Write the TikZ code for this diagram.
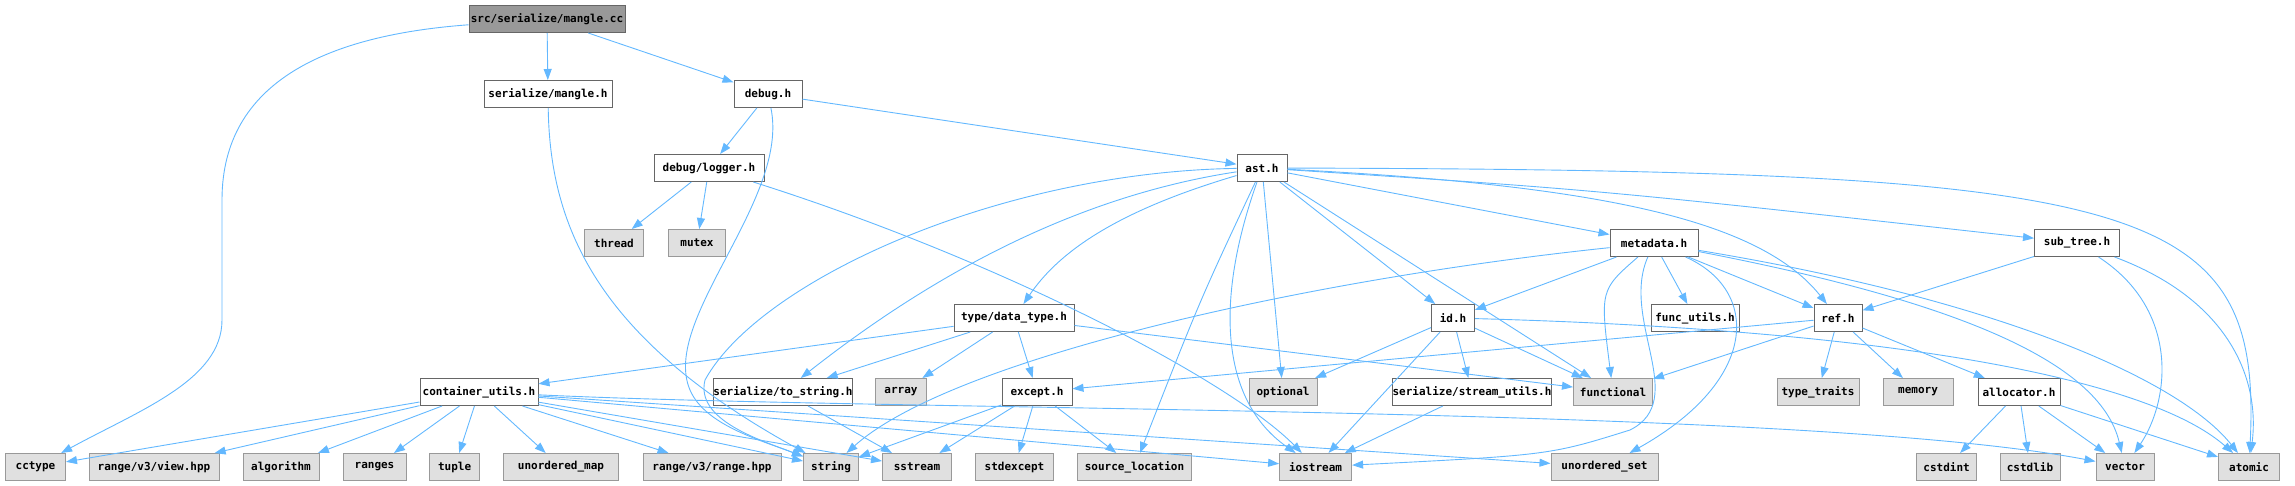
\documentclass[tikz,border=0pt]{standalone}
\usepackage{fontspec}
\setmonofont{DejaVu Sans Mono}
\usetikzlibrary{arrows.meta}

\definecolor{edgeblue}{HTML}{63B8FF}
\definecolor{sysfill}{HTML}{E0E0E0}
\definecolor{rootfill}{HTML}{999999}
\definecolor{hdrline}{HTML}{666666}
\definecolor{sysline}{HTML}{999999}

\begin{document}
\begin{tikzpicture}[x=1pt,y=-1pt,font=\ttfamily\bfseries\fontsize{11}{13}\selectfont]
  \tikzset{box/.style={draw=hdrline,line width=1pt,minimum height=27pt,inner sep=0pt,minimum width=#1pt}}
  \tikzset{hdr/.style={box=#1,fill=white}}
  \tikzset{sys/.style={box=#1,draw=sysline,fill=sysfill}}
  \tikzset{rootbox/.style={box=#1,fill=rootfill}}
  \tikzset{dep/.style={draw=edgeblue,line width=0.9pt,-{Triangle[length=11pt,width=8pt]}}}

  \useasboundingbox (0,0) rectangle (2295,485);

  % Rows 0-2
  \node[rootbox=156] (mangle) at (547,19)  {src/serialize/mangle.cc};
  \node[hdr=128] (smh)  at (548,94)   {serialize/mangle.h};
  \node[hdr=68]  (dbg)  at (768,94)   {debug.h};
  \node[hdr=110] (lgr)  at (709,168)  {debug/logger.h};
  \node[hdr=50]  (ast)  at (1262,168) {ast.h};

  % Row 3
  \node[sys=59]  (thr)  at (614,243)  {thread};
  \node[sys=57]  (mtx)  at (697,243)  {mutex};
  \node[hdr=88]  (meta) at (1654,243) {metadata.h};
  \node[hdr=85]  (subt) at (2077,243) {sub\_tree.h};

  % Row 4
  \node[hdr=120] (dtype) at (1014,318) {type/data\_type.h};
  \node[hdr=43]  (idh)   at (1453,318) {id.h};
  \node[hdr=88]  (futil) at (1695,318) {func\_utils.h};
  \node[hdr=48]  (ref)   at (1838,318) {ref.h};

  % Row 5
  \node[hdr=118] (cutil) at (479,392)  {container\_utils.h};
  \node[hdr=136] (tostr) at (783,392)  {serialize/to\_string.h};
  \node[sys=51]  (arr)   at (901,392)  {array};
  \node[hdr=70]  (exc)   at (1037,392) {except.h};
  \node[sys=68]  (opt)   at (1283,392) {optional};
  \node[hdr=158] (sutil) at (1472,392) {serialize/stream\_utils.h};
  \node[sys=79]  (func)  at (1613,392) {functional};
  \node[sys=82]  (ttr)   at (1818,392) {type\_traits};
  \node[sys=70]  (mem)   at (1918,392) {memory};
  \node[hdr=82]  (alloc) at (2019,392) {allocator.h};

  % Row 6 (system headers)
  \node[sys=60]  (cct)  at (35.5,467)   {cctype};
  \node[sys=130] (view) at (154,467)    {range/v3/view.hpp};
  \node[sys=76]  (algo) at (281,467)    {algorithm};
  \node[sys=63]  (rng)  at (374.5,467)  {ranges};
  \node[sys=50]  (tup)  at (454.6,467)  {tuple};
  \node[sys=115] (umap) at (561,467)    {unordered\_map};
  \node[sys=138] (rrng) at (712,467)    {range/v3/range.hpp};
  \node[sys=55]  (str)  at (831,467)    {string};
  \node[sys=69]  (sst)  at (917,467)    {sstream};
  \node[sys=78]  (sexc) at (1014.5,467) {stdexcept};
  \node[sys=114] (sloc) at (1134.5,467) {source\_location};
  \node[sys=72]  (ios)  at (1315.6,467) {iostream};
  \node[sys=107] (uset) at (1604.5,467) {unordered\_set};
  \node[sys=60]  (cint) at (1946.6,467) {cstdint};
  \node[sys=60]  (clib) at (2030,467)   {cstdlib};
  \node[sys=58]  (vec)  at (2125,467)   {vector};
  \node[sys=61]  (atom) at (2249,467)   {atomic};

  % src/serialize/mangle.cc
  \draw[dep] (mangle) .. controls (330,35) and (222,80) .. (222,200) -- (222,320) .. controls (222,380) and (140,410) .. (cct);
  \draw[dep] (mangle) -- (smh);
  \draw[dep] (mangle) -- (dbg);

  % serialize/mangle.h, debug.h, debug/logger.h
  \draw[dep] (smh) .. controls (550,230) and (600,340) .. (str);
  \draw[dep] (dbg) .. controls (790,200) and (660,320) .. (690,390) .. controls (705,425) and (760,440) .. (str);
  \draw[dep] (dbg) -- (lgr);
  \draw[dep] (dbg) -- (ast);
  \draw[dep] (lgr) -- (thr);
  \draw[dep] (lgr) -- (mtx);
  \draw[dep] (lgr) .. controls (1000,260) and (1230,380) .. (ios);

  % ast.h
  \draw[dep] (ast) .. controls (1000,172) and (760,280) .. (705,380) .. controls (695,420) and (760,440) .. (str);
  \draw[dep] (ast) .. controls (1050,200) and (900,300) .. (tostr);
  \draw[dep] (ast) .. controls (1120,210) and (1060,250) .. (dtype);
  \draw[dep] (ast) .. controls (1200,300) .. (sloc);
  \draw[dep] (ast) .. controls (1215,300) and (1220,400) .. (ios);
  \draw[dep] (ast) -- (opt);
  \draw[dep] (ast) -- (idh);
  \draw[dep] (ast) -- (func);
  \draw[dep] (ast) -- (meta);
  \draw[dep] (ast) .. controls (1600,190) .. (subt);
  \draw[dep] (ast) .. controls (1600,185) and (1760,220) .. (ref);
  \draw[dep] (ast) .. controls (2150,170) and (2262,200) .. (atom);

  % metadata.h
  \draw[dep] (meta) .. controls (1300,280) and (950,360) .. (str);
  \draw[dep] (meta) -- (idh);
  \draw[dep] (meta) .. controls (1600,290) .. (func);
  \draw[dep] (meta) -- (futil);
  \draw[dep] (meta) -- (ref);
  \draw[dep] (meta) .. controls (1620,320) and (1690,400) .. (1630,430) .. controls (1550,455) .. (ios);
  \draw[dep] (meta) .. controls (1760,290) and (1760,380) .. (uset);
  \draw[dep] (meta) .. controls (1950,300) and (2100,360) .. (vec);
  \draw[dep] (meta) .. controls (2000,300) and (2180,380) .. (atom);

  % sub_tree.h
  \draw[dep] (subt) -- (ref);
  \draw[dep] (subt) .. controls (2180,310) and (2170,400) .. (vec);
  \draw[dep] (subt) .. controls (2230,300) and (2260,380) .. (atom);

  % type/data_type.h
  \draw[dep] (dtype) -- (cutil);
  \draw[dep] (dtype) -- (tostr);
  \draw[dep] (dtype) -- (arr);
  \draw[dep] (dtype) -- (exc);
  \draw[dep] (dtype) -- (func);

  % id.h
  \draw[dep] (idh) -- (opt);
  \draw[dep] (idh) -- (ios);
  \draw[dep] (idh) -- (sutil);
  \draw[dep] (idh) -- (func);
  \draw[dep] (idh) .. controls (1900,330) and (2150,380) .. (atom);

  % ref.h
  \draw[dep] (ref) -- (exc);
  \draw[dep] (ref) -- (func);
  \draw[dep] (ref) -- (ttr);
  \draw[dep] (ref) -- (mem);
  \draw[dep] (ref) -- (alloc);

  % allocator.h
  \draw[dep] (alloc) -- (cint);
  \draw[dep] (alloc) -- (clib);
  \draw[dep] (alloc) -- (vec);
  \draw[dep] (alloc) -- (atom);

  % except.h, serialize/to_string.h, serialize/stream_utils.h
  \draw[dep] (exc) -- (str);
  \draw[dep] (exc) -- (sst);
  \draw[dep] (exc) -- (sexc);
  \draw[dep] (exc) -- (sloc);
  \draw[dep] (tostr) -- (sst);
  \draw[dep] (sutil) -- (ios);

  % container_utils.h
  \draw[dep] (cutil) -- (cct);
  \draw[dep] (cutil) -- (view);
  \draw[dep] (cutil) -- (algo);
  \draw[dep] (cutil) -- (rng);
  \draw[dep] (cutil) -- (tup);
  \draw[dep] (cutil) -- (umap);
  \draw[dep] (cutil) -- (rrng);
  \draw[dep] (cutil) -- (str);
  \draw[dep] (cutil) -- (sst);
  \draw[dep] (cutil) -- (ios);
  \draw[dep] (cutil) -- (uset);
  \draw[dep] (cutil) .. controls (900,412) and (1800,405) .. (vec);
\end{tikzpicture}
\end{document}
